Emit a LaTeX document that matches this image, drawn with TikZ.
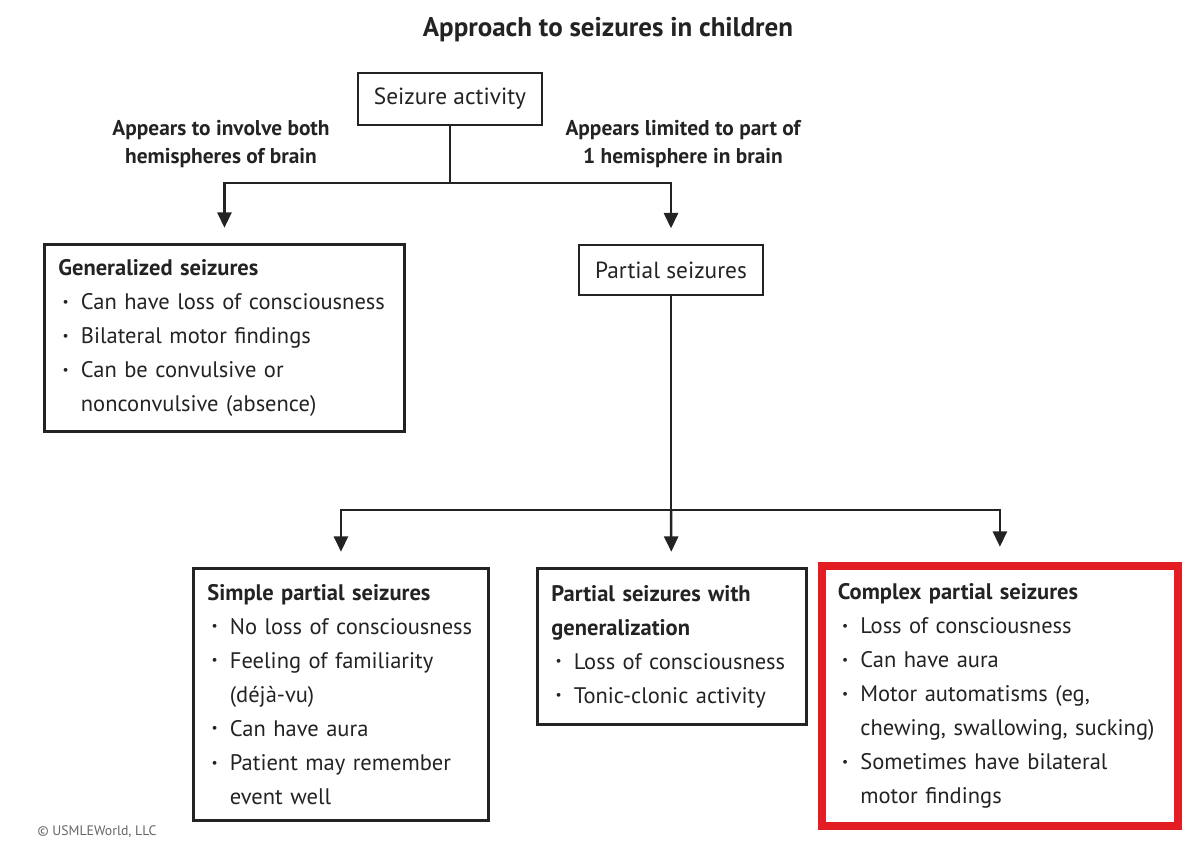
\documentclass[tikz,border=0pt]{standalone}
\usepackage{fontspec}
\setmainfont{PT Sans}
\usepackage{tikz}
\usetikzlibrary{arrows.meta,positioning,calc}
\definecolor{inkgray}{RGB}{35,35,35}
\definecolor{boxred}{RGB}{228,28,36}
\newcommand{\bul}{\hspace*{3pt}\makebox[13pt][l]{\raisebox{0.3ex}{\scalebox{0.6}{\textbullet}}}}
\newcommand{\cont}{\hspace*{16pt}}

\begin{document}
\begin{tikzpicture}[x=0.025cm, y=-0.025cm,
    box/.style={draw=inkgray, line width=2pt, fill=white, anchor=north west,
        align=left, inner xsep=0.35cm, text=inkgray,
        font=\fontsize{16}{24.2}\selectfont},
    smallbox/.style={draw=inkgray, line width=2pt, fill=white, text=inkgray,
        minimum height=1.3cm, inner xsep=0.4cm,
        font=\fontsize{16.6}{20}\selectfont},
    branch/.style={align=center, text=inkgray,
        font=\bfseries\fontsize{15.2}{20}\selectfont},
    link/.style={draw=inkgray, line width=1.8pt},
    arrow/.style={link, -{Triangle[length=11pt,width=10pt]}, shorten >=0.38cm}]
    \useasboundingbox (0,0) rectangle (1196,848);

    % Title
    \node[text=inkgray, font=\bfseries\fontsize{19.2}{22}\selectfont] (title) at (608,30) {Approach to seizures in children};

    % Top box and first split
    \node[smallbox] (act) at (450,99) {Seizure activity};
    \coordinate (j1) at (450,183);
    \node[branch] (both) at (221,144) {Appears to involve both\\hemispheres of brain};
    \node[branch] (part1) at (683,144) {Appears limited to part of\\1 hemisphere in brain};

    % Generalized seizures
    \node[box, text width=8.3cm, minimum height=4.675cm] (gen) at (43,243) {%
        \textbf{Generalized seizures}\\
        \bul Can have loss of consciousness\\
        \bul Bilateral motor findings\\
        \bul Can be convulsive or\\
        \cont nonconvulsive (absence)};

    % Partial seizures
    \node[smallbox, minimum height=1.25cm] (part) at (671,270) {Partial seizures};
    \coordinate (j2) at (671,510);

    % Lower row
    \node[box, text width=6.675cm, minimum height=6.3cm] (simple) at (192,567) {%
        \textbf{Simple partial seizures}\\
        \bul No loss of consciousness\\
        \bul Feeling of familiarity\\
        \cont (déjà-vu)\\
        \bul Can have aura\\
        \bul Patient may remember\\
        \cont event well};
    \node[box, text width=6.025cm, minimum height=3.9cm] (pwg) at (536,567) {%
        \textbf{Partial seizures with}\\
        \textbf{generalization}\\
        \bul Loss of consciousness\\
        \bul Tonic-clonic activity};
    \node[box, draw=boxred, line width=5.5pt, inner xsep=0.4cm, text width=8.1cm,
        minimum height=6.5cm] (complex) at (818,562) {%
        \textbf{Complex partial seizures}\\
        \bul Loss of consciousness\\
        \bul Can have aura\\
        \bul Motor automatisms (eg,\\
        \cont chewing, swallowing, sucking)\\
        \bul Sometimes have bilateral\\
        \cont motor findings};

    % Connectors
    \draw[link] (act) -- (j1);
    \draw[arrow] (j1) -| (gen);
    \draw[arrow] (j1) -| (part);
    \draw[link] (part) -- (j2);
    \draw[arrow] (j2) -| (simple);
    \draw[arrow] (j2) -- (pwg);
    \draw[arrow] (j2) -| (complex);

    % Credit
    \node[text=black!60, font=\fontsize{9.8}{11}\selectfont] (credit) at (97,832) {© USMLEWorld, LLC};
\end{tikzpicture}
\end{document}
